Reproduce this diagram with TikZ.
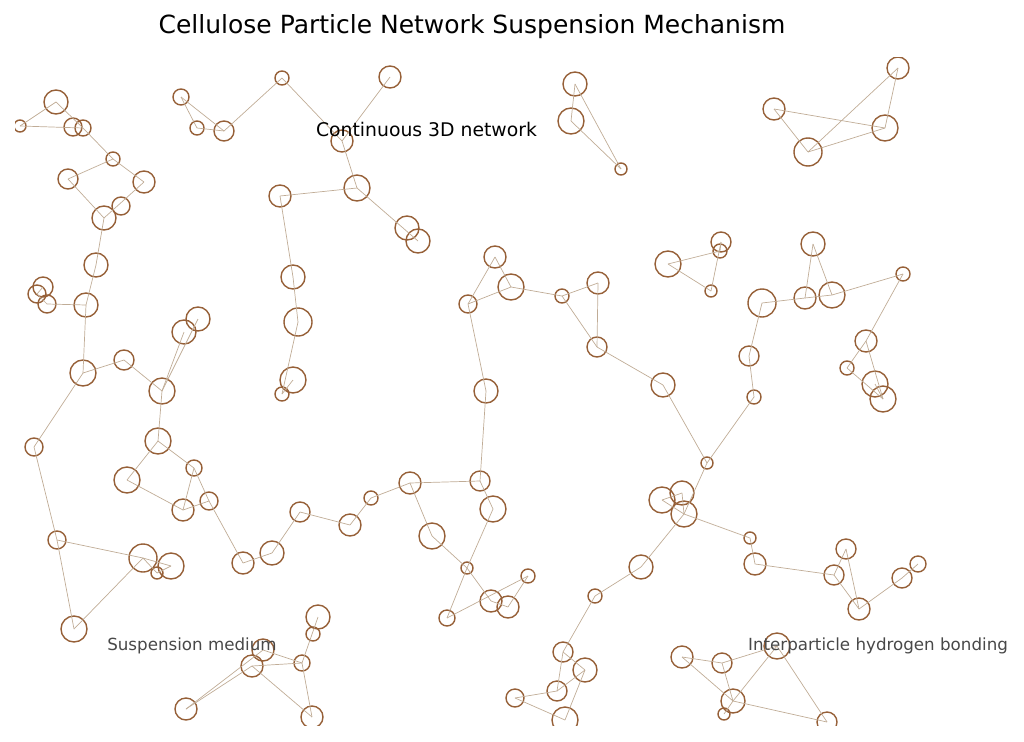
\documentclass[tikz,border=0pt]{standalone}
\usepackage{fontspec}
\setmainfont{DejaVu Sans}
\definecolor{ptcl}{RGB}{150,96,56}
\definecolor{bondc}{RGB}{192,172,150}
\definecolor{lblgray}{RGB}{72,72,72}
\tikzset{
  particle/.style={circle, draw=ptcl, line width=1.4pt, inner sep=0pt, fill=none},
  bond/.style={draw=bondc, line width=0.7pt},
  lbl/.style={anchor=base, inner sep=0pt, text=lblgray, font=\fontsize{16.7}{20}\selectfont},
}
\begin{document}
\begin{tikzpicture}[x=1pt,y=-1pt]
\useasboundingbox (0,0) rectangle (1024,741);
\begin{scope}
\clip (15,58) rectangle (1009,725);
\foreach \n/\x/\y/\r in {
a1/56/102/12, a2/20/126/6, a3/73/127/9, a4/83/128/8, a5/113/159/7, a6/68/179/10, a7/144/182/11, a8/121/206/9, a9/104/218/12, a10/96/265/12,
a11/43/287/10, a12/37/294/9, a13/47/304/9, a14/86/305/12, a15/83/373/13, a16/124/360/10, a17/162/391/13, a18/198/319/12, a19/184/332/12, a20/34/447/9,
a21/158/441/13, a22/127/480/13, a23/194/468/8, a24/209/501/9, a25/183/510/11, a26/57/540/9, a27/143/558/14, a28/171/566/13, a29/157/573/6, a30/74/629/13,
a31/243/563/11, a32/272/553/12, a33/300/512/10, a34/350/525/11, a35/371/498/7, a36/410/483/11, a37/480/481/10, a38/493/509/13, a39/432/536/13, a40/467/568/6,
a41/491/601/11, a42/508/607/11, a43/528/576/7, a44/447/618/8, a45/486/391/12, a46/468/304/9, a47/495/257/11, a48/511/287/13, a49/562/296/7, a50/598/283/11,
a51/597/347/10, a52/663/385/12, a53/707/463/6, a54/662/500/13, a55/682/493/12, a56/684/514/13, a57/641/567/12, a58/595/596/7, a59/563/652/10, a60/585/670/12,
a61/557/691/10, a62/515/698/9, a63/565/720/13, a64/750/538/6, a65/755/564/11, a66/834/575/10, a67/846/549/10, a68/859/609/11, a69/902/578/10, a70/918/564/8,
a71/754/397/7, a72/749/356/10, a73/762/303/14, a74/805/298/11, a75/832/295/13, a76/813/244/12, a77/903/274/7, a78/866/341/11, a79/847/368/7, a80/875/384/13,
a81/883/399/13, a82/668/264/13, a83/721/242/10, a84/720/251/7, a85/711/291/6, a86/682/657/11, a87/722/663/10, a88/777/646/13, a89/733/701/12, a90/724/714/6,
a91/827/722/10, a92/318/617/12, a93/313/634/7, a94/263/650/11, a95/252/666/11, a96/302/663/8, a97/186/709/11, a98/312/717/11,
b1/181/97/8, b2/197/128/7, b3/224/131/10, b4/282/78/7, b5/342/141/11, b6/390/77/11, b7/357/188/13, b8/407/228/12, b9/418/241/12, b10/280/196/11,
b11/293/277/12, b12/298/322/14, b13/293/380/13, b14/282/394/7, b15/575/84/12, b16/571/121/13, b17/621/169/6, b18/898/68/11, b19/774/109/11, b20/885/128/13, b21/808/152/14}
  \node[particle, minimum size=2*\r pt] (\n) at (\x,\y) {};
\foreach \u/\v in {
a2/a4, a2/a1, a1/a4, a4/a5, a5/a6, a5/a7, a6/a9, a7/a9, a9/a10, a10/a14, a11/a12, a12/a13, a13/a14,
a14/a15, a15/a16, a16/a17, a17/a18, a17/a19, a15/a20, a17/a21, a21/a22, a21/a23, a22/a25, a23/a25, a23/a24, a24/a25, a24/a31,
a20/a26, a26/a27, a26/a30, a30/a27, a27/a29, a29/a28, a27/a28,
a31/a32, a32/a33, a33/a34, a34/a35, a35/a36, a36/a37, a37/a38, a36/a39, a39/a40, a38/a40, a40/a41, a40/a44, a44/a43, a43/a42, a41/a42,
a37/a45, a45/a46, a46/a47, a47/a48, a46/a48, a48/a49, a49/a50, a50/a51, a49/a51, a51/a52, a52/a53, a53/a56, a53/a71,
a54/a55, a54/a56, a55/a56, a56/a57, a56/a64, a57/a58, a58/a59, a59/a60, a59/a61, a61/a60, a60/a63, a62/a61, a62/a63,
a64/a65, a65/a66, a66/a67, a66/a68, a67/a68, a68/a69, a69/a70,
a71/a72, a72/a73, a73/a74, a74/a75, a74/a76, a76/a75, a75/a77, a77/a78, a78/a79, a78/a81, a79/a81, a80/a81,
a82/a84, a82/a85, a83/a85, a83/a84,
a86/a87, a86/a89, a87/a89, a87/a88, a89/a88, a89/a91, a88/a91, a89/a90,
a92/a96, a96/a98, a94/a96, a95/a96, a95/a98, a94/a97, a95/a97,
b1/b3, b2/b3, b1/b2, b3/b4, b4/b5, b6/b5, b5/b7, b7/b9, b10/b7, b10/b11, b11/b12, b12/b14, b14/b13,
b15/b16, b15/b17, b16/b17, b19/b20, b19/b21, b21/b20, b21/b18, b20/b18}
  \draw[bond] (\u.center) -- (\v.center);
\end{scope}
\node[anchor=base, inner sep=0pt, font=\fontsize{25}{30}\selectfont] (title) at (472,34) {Cellulose Particle Network Suspension Mechanism};
\node[anchor=base, inner sep=0pt, font=\fontsize{18.8}{22}\selectfont] (net) at (426.5,136.5) {Continuous 3D network};
\node[lbl] (medium) at (192,650) {Suspension medium};
\node[lbl] (hbond) at (878,650) {Interparticle hydrogen bonding};
\end{tikzpicture}
\end{document}
